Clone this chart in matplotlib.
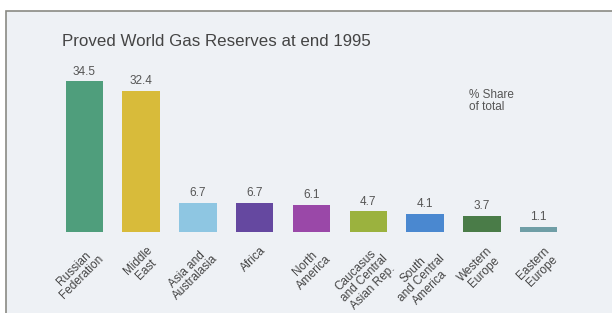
import matplotlib.pyplot as plt
import matplotlib.transforms as mtransforms
from matplotlib.patches import Rectangle

# Data
regions = ['Russian\nFederation', 'Middle\nEast', 'Asia and\nAustralasia', 'Africa',
           'North\nAmerica', 'Caucasus\nand Central\nAsian Rep.', 'South\nand Central\nAmerica',
           'Western\nEurope', 'Eastern\nEurope']
shares = [34.5, 32.4, 6.7, 6.7, 6.1, 4.7, 4.1, 3.7, 1.1]
bar_colors = ['#4f9e7c', '#d8bb3a', '#8ec6e2', '#6548a0', '#9a48a8',
              '#9bb23e', '#4a88d0', '#4a7c48', '#6f9ea6']

W, H = 612, 313
fig = plt.figure(figsize=(W / 100, H / 100), dpi=100)
fig.patch.set_facecolor('white')

# panel background with frame line
panel = Rectangle((6 / W, -0.05), 1.2, (H - 11) / H + 0.05, transform=fig.transFigure,
                  facecolor='#eef1f5', edgecolor='#8a8a84', linewidth=1.2, zorder=-5)
fig.patches.append(panel)

ax = fig.add_axes([56 / W, 81 / H, 511 / W, 192 / H])
ax.set_zorder(2)
ax.patch.set_alpha(0)
x = range(len(shares))
ax.bar(x, shares, width=0.66, color=bar_colors, zorder=2)
ax.set_xlim(-0.5, 8.5)
ax.set_ylim(0, 44)

for i, v in enumerate(shares):
    ax.text(i, v + 0.9, f'{v}', ha='center', va='bottom', fontsize=8.5,
            color='#555555', family='Liberation Sans')

ax.set_xticks(list(x))
ax.set_xticklabels(regions, rotation=45, ha='right', rotation_mode='anchor',
                   fontsize=8.5, color='#444444', family='Liberation Sans',
                   multialignment='center', linespacing=1.0)
ax.tick_params(axis='x', length=0, pad=9)
# nudge the rotated labels a little to the right, as in the reference
shift = mtransforms.ScaledTranslation(5 / 100, 0, fig.dpi_scale_trans)
for lbl in ax.get_xticklabels():
    lbl.set_transform(lbl.get_transform() + shift)
ax.set_yticks([])
for s in ax.spines.values():
    s.set_visible(False)

fig.text(62 / W, 1 - 42 / H, 'Proved World Gas Reserves at end 1995', fontsize=12.2,
         color='#444444', va='center', ha='left', family='Liberation Sans', zorder=3)
fig.text(469 / W, 1 - 101 / H, '% Share\nof total', fontsize=8.5, color='#555555',
         va='center', ha='left', family='Liberation Sans', linespacing=1.0, zorder=3)

fig.savefig('out.png', dpi=100, facecolor='white')
